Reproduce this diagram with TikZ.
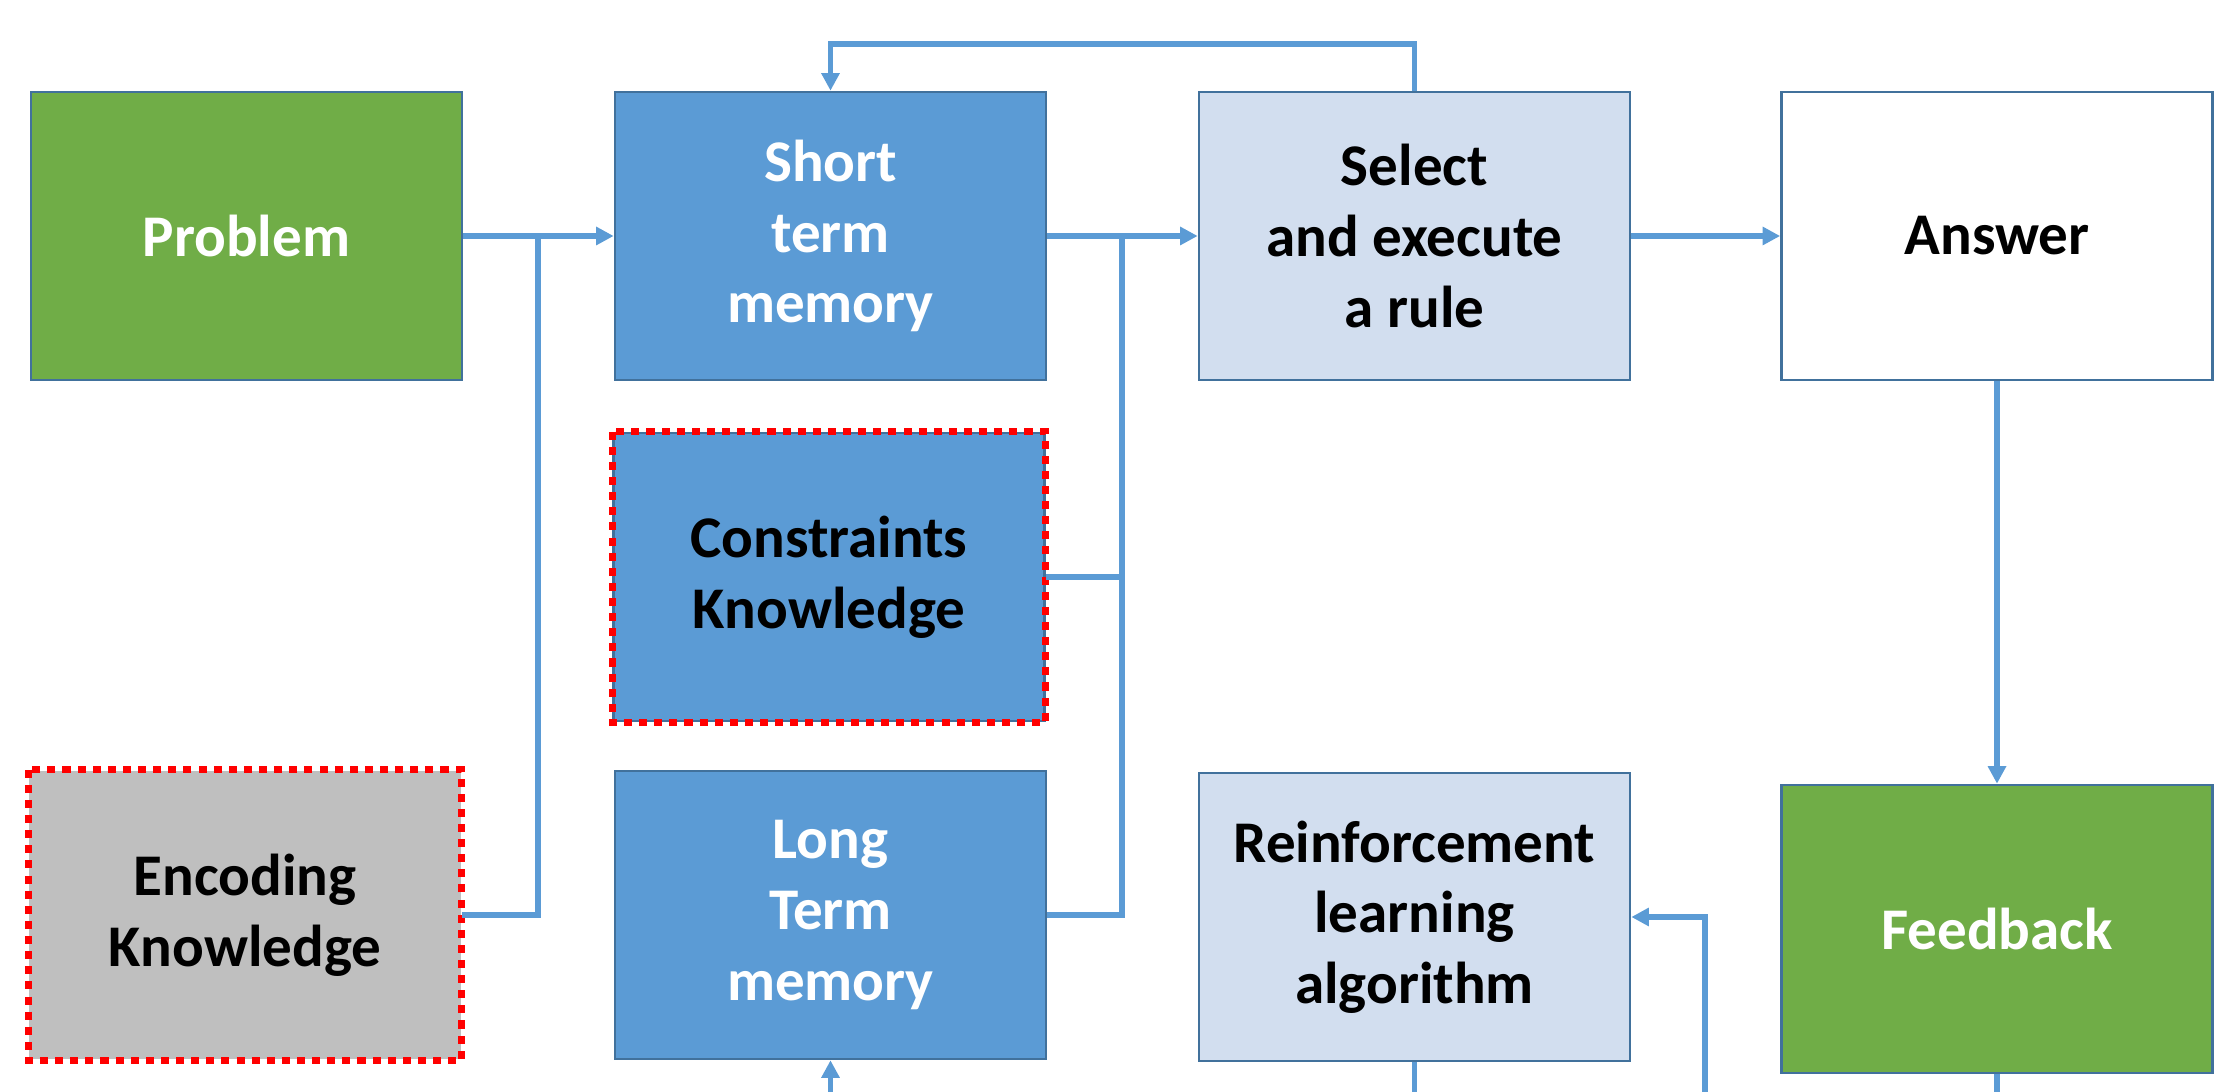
\documentclass[tikz,border=0pt]{standalone}
\usepackage{fontspec}
\setmainfont{Carlito}
\usetikzlibrary{arrows.meta}
\definecolor{lineblue}{HTML}{5B9BD5}
\definecolor{fillblue}{HTML}{5B9BD5}
\definecolor{bordc}{HTML}{41719C}
\definecolor{fillgreen}{HTML}{70AD47}
\definecolor{filllight}{HTML}{D2DEEF}
\definecolor{fillgray}{HTML}{BFBFBF}
\definecolor{dotred}{HTML}{FF0000}
\begin{document}
\begin{tikzpicture}[x=0.01cm,y=-0.01cm,
  box/.style={rectangle, minimum width=4.31cm, minimum height=2.88cm, draw=bordc, line width=0.7pt,
    align=center, inner sep=0pt, font=\fontsize{16.8}{20.1}\selectfont\bfseries},
  greenbox/.style={box, fill=fillgreen, text=white},
  bluebox/.style={box, fill=fillblue, text=white},
  lightbox/.style={box, fill=filllight, text=black},
  whitebox/.style={box, fill=white, text=black},
  graybox/.style={box, fill=fillgray, text=black, draw=none},
  reddot/.style={draw=dotred, line width=2pt, dash pattern=on 2.3pt off 2.0pt},
  conn/.style={draw=lineblue, line width=1.6pt},
  arr/.style={conn, -{Triangle[length=5pt,width=5pt]}}
]
\useasboundingbox (0,0) rectangle (2217,1092);
\clip (0,0) rectangle (2217,1092);

\node[greenbox] (prob) at (246.5,236) {Problem};
\node[bluebox]  (stm)  at (830.5,236) {Short\\term\\memory};
\node[lightbox] (sel)  at (1414.5,236) {Select\\and execute\\a rule};
\node[whitebox] (ans)  at (1997,236) {Answer};
\node[bluebox, text=black] (con) at (829,577) {Constraints\\Knowledge};
\node[graybox]  (enc)  at (245,915) {Encoding\\Knowledge};
\node[bluebox]  (ltm)  at (830.5,915) {Long\\Term\\memory};
\node[lightbox] (rl)   at (1414.5,917) {Reinforcement\\learning\\algorithm};
\node[greenbox] (fb)   at (1997,929) {Feedback};

\draw[reddot] (con.north west) rectangle (con.south east);
\draw[reddot] (enc.north west) rectangle (enc.south east);

\coordinate (j1) at (538,236);
\coordinate (j2) at (1122,236);
\coordinate (t1) at (1414.5,44);
\coordinate (b1) at (1414.5,1100);
\coordinate (b2) at (1705,1100);
\coordinate (b3) at (830.5,1100);
\coordinate (b4) at (1997,1100);

\draw[arr] (prob.east) -- (stm.west);
\draw[conn] (enc.east) -| (j1);
\draw[arr] (stm.east) -- (sel.west);
\draw[conn] (con.east) -| (j2);
\draw[conn] (ltm.east) -| (j2);
\draw[arr] (sel.east) -- (ans.west);
\draw[arr] (ans.south) -- (fb.north);
\draw[arr] (sel.north) -- (t1) -| (stm.north);
\draw[conn] (rl.south) -- (b1);
\draw[conn] (fb.south) -- (b4);
\draw[arr] (b2) |- (rl.east);
\draw[arr] (b3) -- (ltm.south);
\end{tikzpicture}
\end{document}
